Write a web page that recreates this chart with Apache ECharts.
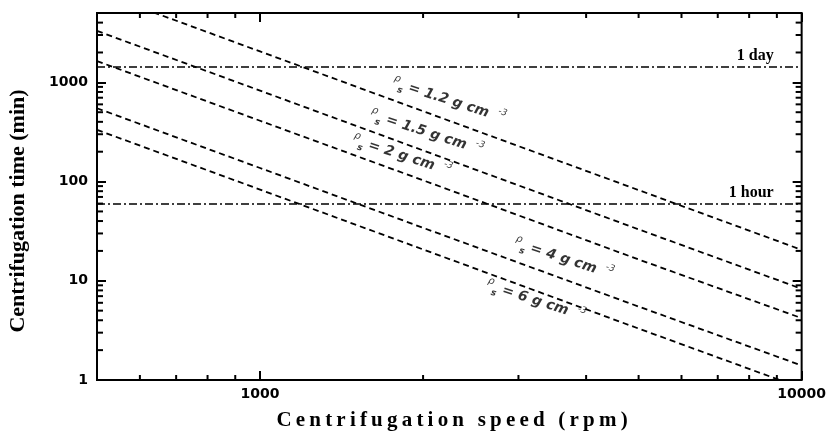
<!DOCTYPE html>
<html>
<head>
<meta charset="utf-8">
<script src="https://cdn.jsdelivr.net/npm/echarts@6/dist/echarts.min.js"></script>
<style>
  html, body { margin: 0; padding: 0; background: #fff; }
  #chart { width: 829px; height: 433px; }
</style>
</head>
<body>
<div id="chart"></div>
<script>
// speeds (rpm) where the curves were read
const speeds = [500, 1000, 2000, 5000, 10000]
// centrifugation time (min) per particle density
const t1_2 = [8200, 2050, 512, 82, 20.5]
const t1_5 = [3300, 825, 206, 33, 8.3]
const t2 = [1640, 410, 103, 16.4, 4.2]
const t4 = [548, 137, 34.2, 5.5, 1.4]
const t6 = [332, 83, 20.7, 3.3, 0.83]
const densities = ['1.2', '1.5', '2', '4', '6']

// curve labels, placed in data coordinates
const annSpeeds = [2234, 2031, 1828, 3639, 3228]
const annTimes = [653, 311, 182, 16.6, 6.27]

// reference lines
const refValues = [1440, 60]
const refLabels = ['1 day', '1 hour']

// ticks
const xTickValues = [1000, 10000]
const yTickValues = [1, 10, 100, 1000]
const xMinor = [600, 700, 800, 900, 2000, 3000, 4000, 5000, 6000, 7000, 8000, 9000]
const yMinor = [2, 3, 4, 5, 6, 7, 8, 9, 20, 30, 40, 50, 60, 70, 80, 90,
  200, 300, 400, 500, 600, 700, 800, 900, 2000, 3000, 4000]

const spaced = s => s.split('').join('\u2009')

const chart = echarts.init(document.getElementById('chart'))

const curves = [t1_2, t1_5, t2, t4, t6].map((t, i) => ({
  name: densities[i],
  type: 'line',
  symbol: 'none',
  data: speeds.map((s, j) => [s, t[j]]),
  lineStyle: { color: '#000', width: 1.8, type: [6, 4] },
  z: 3
}))

function xMinorTick(params, api) {
  const p = api.coord([api.value(0), api.value(1)])
  const cs = params.coordSys
  const st = { stroke: '#000', lineWidth: 2 }
  return {
    type: 'group',
    children: [
      { type: 'line', shape: { x1: p[0], y1: cs.y + cs.height, x2: p[0], y2: cs.y + cs.height - 5 }, style: st },
      { type: 'line', shape: { x1: p[0], y1: cs.y, x2: p[0], y2: cs.y + 5 }, style: st }
    ]
  }
}

function yMinorTick(params, api) {
  const p = api.coord([api.value(0), api.value(1)])
  const cs = params.coordSys
  const st = { stroke: '#000', lineWidth: 2 }
  return {
    type: 'group',
    children: [
      { type: 'line', shape: { x1: cs.x, y1: p[1], x2: cs.x + 6, y2: p[1] }, style: st },
      { type: 'line', shape: { x1: cs.x + cs.width, y1: p[1], x2: cs.x + cs.width - 6, y2: p[1] }, style: st }
    ]
  }
}

const tickStyle = { show: true, inside: true, length: 9, lineStyle: { color: '#000', width: 2 } }
const labelFont = { color: '#000', fontFamily: 'DejaVu Sans', fontWeight: 'bold', fontSize: 14 }

chart.setOption({
  animation: false,
  backgroundColor: '#fff',
  grid: {
    left: 97, right: 26, top: 13, bottom: 53,
    show: true, borderColor: '#000', borderWidth: 2
  },
  xAxis: [{
    type: 'log', logBase: 10, min: 500, max: 10000,
    axisLine: { show: false },
    axisTick: tickStyle,
    splitLine: { show: false },
    axisLabel: Object.assign({
      margin: 7,
      showMinLabel: false,
      formatter: v => xTickValues.includes(Math.round(v)) ? String(Math.round(v)) : ''
    }, labelFont)
  }, {
    type: 'log', logBase: 10, min: 500, max: 10000, position: 'top',
    axisLine: { show: false },
    axisTick: tickStyle,
    splitLine: { show: false },
    axisLabel: { show: false }
  }],
  yAxis: [{
    type: 'log', logBase: 10, min: 1, max: 5000,
    axisLine: { show: false },
    axisTick: tickStyle,
    splitLine: { show: false },
    axisLabel: Object.assign({
      margin: 9,
      showMaxLabel: false,
      formatter: v => yTickValues.includes(Math.round(v)) ? String(Math.round(v)) : ''
    }, labelFont)
  }, {
    type: 'log', logBase: 10, min: 1, max: 5000, position: 'right',
    axisLine: { show: false },
    axisTick: tickStyle,
    splitLine: { show: false },
    axisLabel: { show: false }
  }],
  graphic: [{
    type: 'text', x: 452, y: 421,
    style: {
      text: spaced('Centrifugation speed (rpm)'),
      font: 'bold 21px "Liberation Serif"', fill: '#000',
      align: 'center', verticalAlign: 'middle'
    }
  }, {
    type: 'text', x: 18, y: 211, rotation: Math.PI / 2,
    style: {
      text: 'Centrifugation time (min)',
      font: 'bold 22px "Liberation Serif"', fill: '#000',
      align: 'center', verticalAlign: 'middle'
    }
  }],
  series: curves.concat([{
    name: 'reference',
    type: 'line',
    data: [],
    markLine: {
      silent: true,
      symbol: 'none',
      lineStyle: { color: '#000', width: 1.5, type: [8, 3, 2, 3] },
      label: {
        show: true,
        position: 'insideEndTop',
        distance: [28, 3],
        formatter: '{b}',
        color: '#000',
        fontFamily: 'Liberation Serif',
        fontWeight: 'bold',
        fontSize: 16
      },
      data: refValues.map((v, i) => ({ yAxis: v, name: refLabels[i] }))
    }
  }, {
    name: 'labels',
    type: 'scatter',
    symbolSize: 0,
    silent: true,
    data: annSpeeds.map((s, i) => [s, annTimes[i], densities[i]]),
    label: {
      show: true,
      position: 'inside',
      rotate: -18,
      formatter: p => '{r|ρ}{s|s}{t| = ' + p.value[2] + ' g cm}{sup|   -3}',
      rich: {
        r: { fontFamily: 'DejaVu Sans', fontStyle: 'italic', fontSize: 10, color: '#000', verticalAlign: 'top', lineHeight: 20 },
        s: { fontFamily: 'DejaVu Sans', fontStyle: 'italic', fontWeight: 'bold', fontSize: 9, color: '#000', verticalAlign: 'bottom', lineHeight: 20 },
        t: { fontFamily: 'DejaVu Sans', fontStyle: 'italic', fontWeight: 'bold', fontSize: 14, color: '#000', lineHeight: 20 },
        sup: { fontFamily: 'DejaVu Sans', fontStyle: 'italic', fontSize: 9, color: '#000', verticalAlign: 'top', lineHeight: 20 }
      }
    },
    z: 5
  }, {
    name: 'xminor',
    type: 'custom',
    silent: true,
    clip: false,
    renderItem: xMinorTick,
    data: xMinor.map(v => [v, 1])
  }, {
    name: 'yminor',
    type: 'custom',
    silent: true,
    clip: false,
    renderItem: yMinorTick,
    data: yMinor.map(v => [500, v])
  }])
})
</script>
</body>
</html>
